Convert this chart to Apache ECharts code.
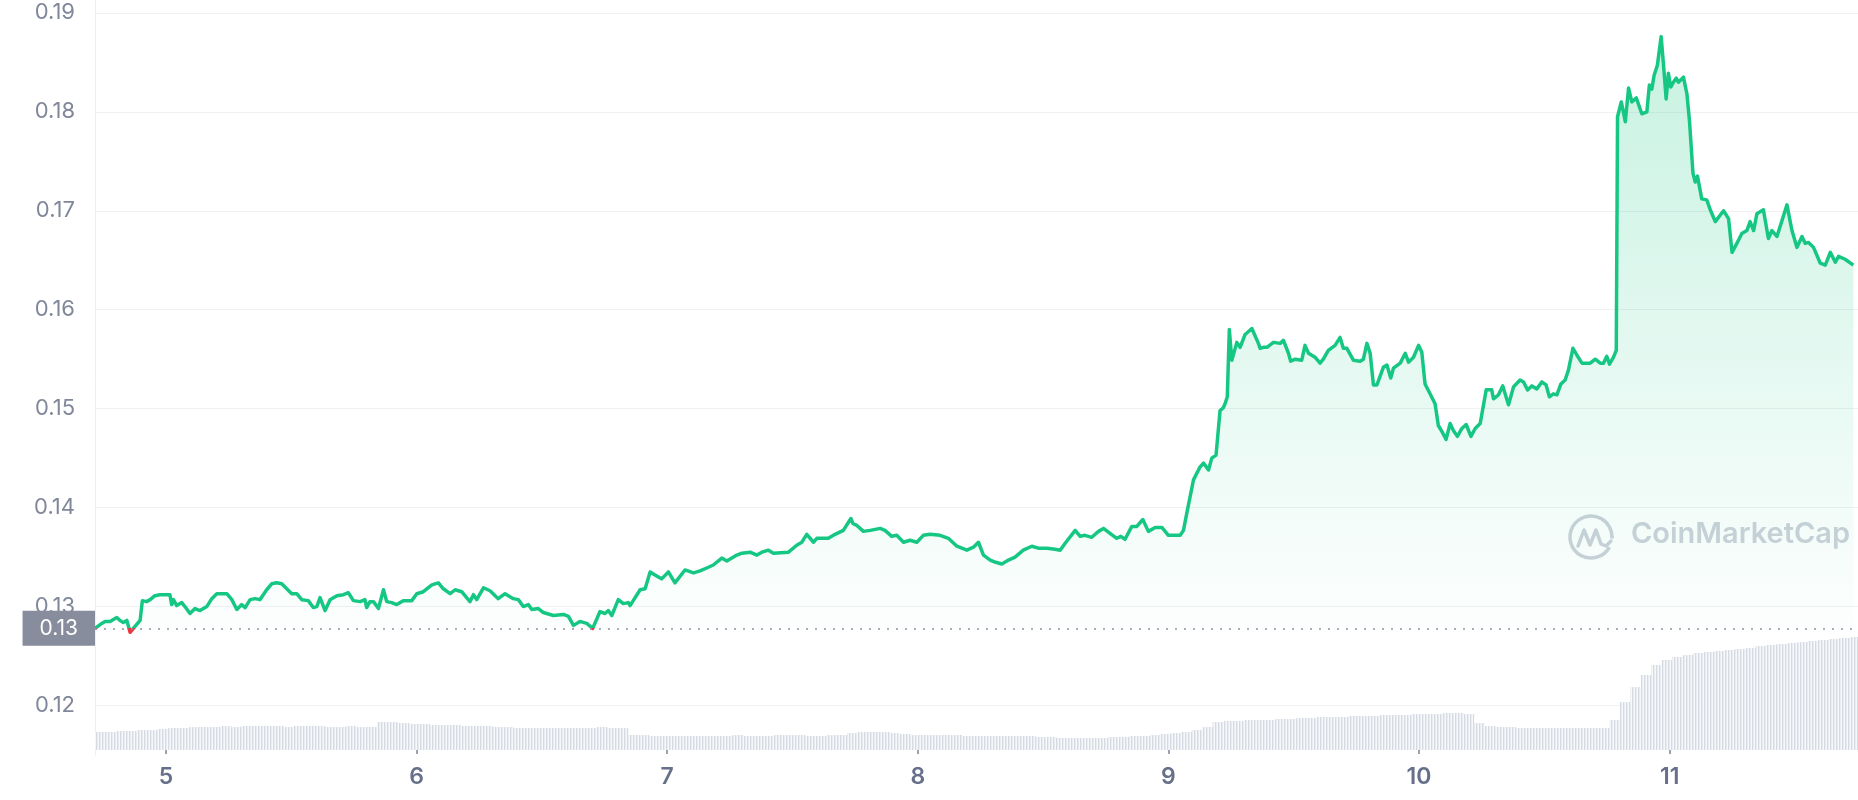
<!DOCTYPE html>
<html><head><meta charset="utf-8">
<script src="https://cdn.jsdelivr.net/npm/echarts@6/dist/echarts.min.js"></script>
<style>html,body{margin:0;padding:0;background:#fff}#c{width:1858px;height:800px}</style>
</head><body><div id="c"></div>
<script>
// x: day of month (fractional), y: price in USD
const days = [4.717,4.744,4.757,4.777,4.804,4.817,4.830,4.844,4.857,4.870,4.897,4.906,4.923,4.937,4.956,4.976,4.996,5.016,5.023,5.030,5.043,5.063,5.076,5.096,5.116,5.136,5.163,5.183,5.203,5.243,5.263,5.283,5.302,5.316,5.336,5.356,5.375,5.402,5.422,5.442,5.462,5.482,5.502,5.522,5.542,5.568,5.588,5.602,5.615,5.635,5.655,5.682,5.708,5.728,5.748,5.775,5.794,5.801,5.814,5.828,5.848,5.868,5.881,5.901,5.921,5.947,5.981,6.001,6.027,6.061,6.087,6.107,6.134,6.154,6.180,6.213,6.227,6.240,6.267,6.293,6.326,6.353,6.386,6.406,6.426,6.446,6.460,6.486,6.506,6.546,6.586,6.606,6.626,6.652,6.679,6.703,6.732,6.752,6.765,6.779,6.805,6.825,6.845,6.852,6.892,6.912,6.932,6.958,6.978,7.005,7.031,7.071,7.105,7.131,7.158,7.184,7.218,7.238,7.258,7.278,7.298,7.331,7.358,7.378,7.404,7.424,7.484,7.517,7.537,7.557,7.584,7.597,7.643,7.670,7.703,7.733,7.741,7.757,7.783,7.810,7.850,7.869,7.896,7.916,7.943,7.969,7.996,8.022,8.049,8.089,8.122,8.156,8.196,8.222,8.242,8.262,8.289,8.308,8.335,8.362,8.388,8.421,8.455,8.481,8.515,8.548,8.568,8.588,8.628,8.648,8.667,8.694,8.721,8.741,8.767,8.794,8.810,8.827,8.854,8.874,8.898,8.920,8.947,8.974,9.000,9.020,9.047,9.060,9.073,9.100,9.126,9.140,9.160,9.173,9.190,9.206,9.219,9.226,9.235,9.243,9.253,9.273,9.286,9.306,9.333,9.359,9.366,9.379,9.393,9.419,9.446,9.459,9.479,9.488,9.506,9.532,9.545,9.559,9.585,9.605,9.618,9.638,9.665,9.685,9.698,9.712,9.738,9.765,9.778,9.792,9.805,9.818,9.832,9.858,9.872,9.887,9.898,9.925,9.945,9.958,9.978,9.998,10.011,10.024,10.044,10.064,10.077,10.091,10.108,10.124,10.137,10.153,10.171,10.188,10.207,10.224,10.244,10.268,10.290,10.297,10.317,10.334,10.357,10.377,10.403,10.417,10.433,10.450,10.470,10.490,10.507,10.520,10.536,10.550,10.566,10.583,10.596,10.614,10.630,10.650,10.683,10.703,10.723,10.736,10.749,10.760,10.776,10.787,10.792,10.807,10.823,10.836,10.849,10.867,10.889,10.909,10.919,10.929,10.938,10.951,10.966,10.975,10.986,10.995,11.004,11.015,11.026,11.035,11.055,11.069,11.079,11.093,11.102,11.111,11.128,11.148,11.162,11.182,11.215,11.235,11.249,11.268,11.288,11.308,11.321,11.335,11.348,11.374,11.394,11.408,11.428,11.448,11.468,11.488,11.508,11.528,11.541,11.554,11.574,11.601,11.621,11.641,11.661,11.674,11.700,11.733];
const prices = [0.1278,0.1283,0.1285,0.1285,0.1289,0.1286,0.1284,0.1286,0.1274,0.1278,0.1286,0.1306,0.1305,0.1307,0.1311,0.1312,0.1312,0.1312,0.1302,0.1307,0.1301,0.1304,0.1300,0.1293,0.1298,0.1296,0.1300,0.1308,0.1313,0.1313,0.1307,0.1297,0.1302,0.1299,0.1307,0.1308,0.1307,0.1317,0.1323,0.1324,0.1323,0.1318,0.1313,0.1313,0.1307,0.1306,0.1299,0.1300,0.1309,0.1296,0.1307,0.1311,0.1312,0.1314,0.1306,0.1305,0.1307,0.1299,0.1305,0.1305,0.1298,0.1317,0.1305,0.1304,0.1302,0.1306,0.1306,0.1313,0.1315,0.1322,0.1324,0.1318,0.1313,0.1317,0.1315,0.1305,0.1312,0.1307,0.1319,0.1316,0.1308,0.1313,0.1308,0.1307,0.1300,0.1302,0.1297,0.1298,0.1294,0.1291,0.1292,0.1290,0.1281,0.1285,0.1283,0.1278,0.1295,0.1293,0.1296,0.1291,0.1307,0.1303,0.1304,0.1301,0.1317,0.1318,0.1335,0.1331,0.1328,0.1335,0.1324,0.1337,0.1334,0.1336,0.1339,0.1342,0.1349,0.1346,0.1349,0.1352,0.1354,0.1355,0.1352,0.1355,0.1357,0.1354,0.1355,0.1362,0.1365,0.1373,0.1365,0.1369,0.1369,0.1373,0.1377,0.1389,0.1384,0.1382,0.1376,0.1377,0.1379,0.1377,0.1371,0.1372,0.1365,0.1367,0.1365,0.1372,0.1373,0.1372,0.1369,0.1361,0.1357,0.1360,0.1365,0.1352,0.1347,0.1345,0.1343,0.1347,0.1350,0.1357,0.1361,0.1359,0.1359,0.1358,0.1357,0.1364,0.1377,0.1371,0.1372,0.1370,0.1376,0.1379,0.1374,0.1369,0.1371,0.1368,0.1381,0.1381,0.1388,0.1376,0.1380,0.1380,0.1372,0.1372,0.1372,0.1377,0.1394,0.1428,0.1441,0.1445,0.1438,0.1450,0.1453,0.1498,0.1501,0.1505,0.1512,0.1580,0.1549,0.1567,0.1562,0.1575,0.1581,0.1566,0.1561,0.1562,0.1562,0.1567,0.1566,0.1569,0.1556,0.1548,0.1550,0.1549,0.1564,0.1556,0.1552,0.1546,0.1550,0.1559,0.1564,0.1572,0.1561,0.1561,0.1549,0.1548,0.1550,0.1566,0.1556,0.1524,0.1524,0.1542,0.1544,0.1531,0.1541,0.1546,0.1556,0.1547,0.1552,0.1564,0.1557,0.1525,0.1515,0.1505,0.1483,0.1477,0.1469,0.1485,0.1478,0.1472,0.1480,0.1484,0.1472,0.1480,0.1485,0.1519,0.1519,0.1510,0.1514,0.1523,0.1504,0.1522,0.1529,0.1527,0.1519,0.1523,0.1520,0.1527,0.1524,0.1512,0.1515,0.1514,0.1525,0.1529,0.1539,0.1561,0.1554,0.1546,0.1546,0.1550,0.1546,0.1546,0.1553,0.1545,0.1552,0.1559,0.1795,0.1810,0.1790,0.1824,0.1810,0.1814,0.1798,0.1800,0.1827,0.1823,0.1837,0.1847,0.1876,0.1849,0.1813,0.1839,0.1825,0.1830,0.1834,0.1830,0.1835,0.1818,0.1791,0.1738,0.1729,0.1735,0.1712,0.1711,0.1701,0.1689,0.1700,0.1692,0.1658,0.1667,0.1677,0.1680,0.1689,0.1680,0.1697,0.1701,0.1672,0.1680,0.1674,0.1690,0.1706,0.1680,0.1663,0.1674,0.1667,0.1668,0.1663,0.1647,0.1645,0.1658,0.1648,0.1654,0.1651,0.1645];

// hourly volume bars (relative units), first bar at volumeStartDay
const volumeStartDay = 4.74;
const volumeStepDays = 1 / 24;
const volumes = [18,18,19,19,20,20,
  21,22,22,23,23,23,24,23,24,24,24,24,23,24,24,24,23,23,24,23,23,
  28,28,27,
  26,26,25,25,25,24,24,24,
  23,23,22,22,22,22,22,22,22,22,23,22,22,
  15,15,14,14,14,14,14,14,14,14,15,14,14,14,15,15,15,14,14,15,15,
  17,18,18,18,17,16,
  15,15,15,15,15,14,14,14,14,14,14,14,
  13,13,12,12,12,12,12,13,13,14,14,
  15,16,17,18,20,23,
  28,29,29,30,30,30,31,31,
  32,32,33,33,33,34,34,34,35,35,35,36,36,36,37,37,36,
  27,24,23,23,22,22,22,22,22,22,22,22,22,
  30,48,63,75,85,90,
  93,95,97,98,99,100,101,102,104,105,106,107,108,109,110,111,112,113];

const xTickDays = [5, 6, 7, 8, 9, 10, 11];
const xTickLabels = ['5', '6', '7', '8', '9', '10', '11'];
const yTickValues = [0.12, 0.13, 0.14, 0.15, 0.16, 0.17, 0.18, 0.19];

const X_MIN = 4.717, X_MAX = 11.7515;
const basePrice = prices[0];
const GREEN = '#16c784', RED = '#ea3943';

const priceData = days.map((d, i) => [d, prices[i]]);
const volumeData = volumes.map((v, i) => [volumeStartDay + i * volumeStepDays, v]);

// fine vertical stripe pattern for the volume bars
const pat = document.createElement('canvas');
pat.width = 3; pat.height = 4;
const pctx = pat.getContext('2d');
pctx.fillStyle = '#d6dbe3'; pctx.fillRect(0, 0, 1, 4);
pctx.fillStyle = '#e9ecf0'; pctx.fillRect(1, 0, 1, 4);
pctx.fillStyle = '#f7f8fa'; pctx.fillRect(2, 0, 1, 4);

const chart = echarts.init(document.getElementById('c'), null, { renderer: 'canvas' });
const option = {
  animation: false,
  backgroundColor: '#ffffff',
  textStyle: { fontFamily: 'Inter, "Noto Sans", sans-serif' },
  grid: [
    { left: 95, right: 0, top: 0, bottom: 45 },
    { left: 95, right: 0, top: 0, bottom: 50 }
  ],
  xAxis: [
    { type: 'value', gridIndex: 0, min: X_MIN, max: X_MAX, show: false },
    {
      type: 'value', gridIndex: 1, min: X_MIN, max: X_MAX,
      axisLine: { show: false },
      splitLine: { show: false },
      axisTick: { show: true, customValues: xTickDays, length: 4, lineStyle: { color: '#7a8296', width: 1.5 } },
      axisLabel: {
        customValues: xTickDays,
        formatter: v => xTickLabels[xTickDays.indexOf(Math.round(v))] || '',
        color: '#66708a', fontSize: 23, fontWeight: 600, margin: 16,
        fontFamily: 'Inter, sans-serif'
      }
    }
  ],
  yAxis: [
    {
      type: 'value', gridIndex: 0, min: 0.115, max: 0.1913, interval: 0.005,
      axisLine: { show: true, lineStyle: { color: '#eceef2', width: 1 } },
      axisTick: { show: false },
      splitLine: { show: true, lineStyle: { color: ['rgba(0,0,0,0)', '#eff1f4'], width: 1 } },
      axisLabel: {
        margin: 20, color: '#80879a', fontSize: 22, fontFamily: 'Inter, sans-serif',
        formatter: v => {
          const hit = yTickValues.find(t => Math.abs(t - v) < 1e-6);
          return hit !== undefined ? hit.toFixed(2) : '';
        }
      }
    },
    { type: 'value', gridIndex: 1, min: 0, max: 750, show: false }
  ],
  graphic: [
    {
      type: 'arc', z: 0, silent: true,
      shape: { cx: 1591, cy: 537, r: 21, startAngle: 0.5, endAngle: Math.PI * 2 + 0.08 },
      style: { stroke: '#ccd1da', lineWidth: 3.5, fill: null }
    },
    {
      type: 'polyline', z: 0, silent: true,
      shape: { points: [[1578, 546], [1584, 530], [1590, 545], [1596, 530], [1601, 544], [1606, 546], [1611, 541]] },
      style: { stroke: '#ccd1da', lineWidth: 3.5, fill: null, lineJoin: 'round', lineCap: 'round' }
    },
    {
      type: 'text', z: 0, silent: true, left: 1631, top: 520,
      style: { text: 'CoinMarketCap', font: '600 29px Inter, sans-serif', fill: '#ccd1da' }
    }
  ],
  series: [
    {
      type: 'bar', xAxisIndex: 1, yAxisIndex: 1, z: 1,
      data: volumeData, barWidth: 11, silent: true,
      itemStyle: { color: { image: pat, repeat: 'repeat' } }
    },
    {
      type: 'line', xAxisIndex: 0, yAxisIndex: 0, z: 3,
      data: priceData, showSymbol: false, smooth: false, silent: true,
      lineStyle: { width: 3.5, color: GREEN, join: 'round' },
      areaStyle: {
        origin: basePrice,
        color: new echarts.graphic.LinearGradient(0, 0, 0, 1, [
          { offset: 0, color: 'rgba(22,199,132,0.34)' },
          { offset: 1, color: 'rgba(22,199,132,0.01)' }
        ])
      },
      markLine: {
        silent: true, symbol: 'none', precision: 4,
        lineStyle: { type: [2, 7], color: '#8a91a3', width: 1.5 },
        label: {
          show: true, position: 'start', distance: 0,
          formatter: p => Number(p.value).toFixed(2),
          backgroundColor: '#878d9c', color: '#ffffff', fontSize: 21,
          padding: [7, 17, 7, 17], fontFamily: 'Inter, sans-serif'
        },
        data: [{ yAxis: basePrice }]
      }
    }
  ]
};
chart.setOption(option);

// colour the line red below the opening price and green above it
const yb = chart.convertToPixel({ xAxisIndex: 0, yAxisIndex: 0 }, [X_MIN, basePrice])[1];
const H = 800, f = Math.min(Math.max(yb / H, 0), 1);
chart.setOption({
  series: [{}, {
    lineStyle: {
      color: new echarts.graphic.LinearGradient(0, 0, 0, H, [
        { offset: 0, color: GREEN }, { offset: f, color: GREEN },
        { offset: f, color: RED }, { offset: 1, color: RED }
      ], true)
    }
  }]
});
</script>
</body></html>
